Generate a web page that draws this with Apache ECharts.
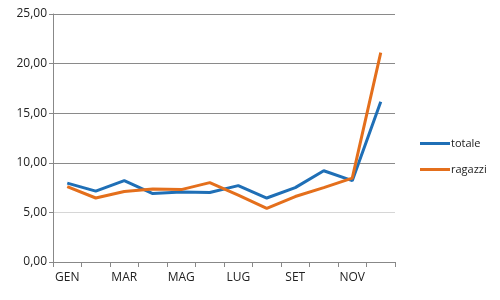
<!DOCTYPE html>
<html><head><meta charset="utf-8">
<script src="https://cdn.jsdelivr.net/npm/echarts@6/dist/echarts.min.js"></script>
<style>html,body{margin:0;padding:0;background:#fff}#c{width:500px;height:300px}</style>
</head><body><div id="c"></div>
<script>
var categories = ['GEN','FEB','MAR','APR','MAG','GIU','LUG','AGO','SET','OTT','NOV','DIC'];
var totale = [7.95, 7.15, 8.2, 6.9, 7.05, 7.0, 7.7, 6.45, 7.5, 9.2, 8.2, 16.15];
var ragazzi = [7.6, 6.45, 7.1, 7.35, 7.3, 8.0, 6.75, 5.4, 6.6, 7.5, 8.45, 21.1];
var yTicks = {min: 0, max: 25, interval: 5};

var font = 'Open Sans';
var chart = echarts.init(document.getElementById('c'), null, {renderer: 'canvas'});
chart.setOption({
  animation: false,
  backgroundColor: '#fff',
  grid: {left: 53, right: 105, top: 14, bottom: 38, containLabel: false},
  legend: {
    orient: 'vertical', left: 415, top: 133, itemWidth: 30, itemHeight: 3, itemGap: 15,
    icon: 'rect',
    textStyle: {fontFamily: font, fontSize: 11, color: '#222', padding: [0,0,0,-4]},
    data: ['totale', 'ragazzi']
  },
  xAxis: {
    type: 'category', data: categories, boundaryGap: true,
    axisLine: {lineStyle: {color: '#888', width: 1}},
    axisTick: {show: true, length: 5, lineStyle: {color: '#888'}, interval: 0},
    axisLabel: {interval: 1, fontFamily: font, fontSize: 12, color: '#222', margin: 10}
  },
  yAxis: {
    type: 'value', min: yTicks.min, max: yTicks.max, interval: yTicks.interval,
    axisLine: {show: true, lineStyle: {color: '#888'}},
    axisTick: {show: true, length: 4, lineStyle: {color: '#888'}},
    splitLine: {lineStyle: {color: ['#888', '#d6d6d6', '#8a8a8a', '#8a8a8a', '#8a8a8a', '#8a8a8a'], width: 1}},
    axisLabel: {fontFamily: font, fontSize: 12, color: '#222', margin: 6,
      formatter: function(v){ return v.toFixed(2).replace('.', ','); }}
  },
  series: [
    {name: 'totale', type: 'line', data: totale, symbol: 'none', lineStyle: {width: 3, color: '#1f6fb6'}, itemStyle: {color: '#1f6fb6'}},
    {name: 'ragazzi', type: 'line', data: ragazzi, symbol: 'none', lineStyle: {width: 3, color: '#e46f1c'}, itemStyle: {color: '#e46f1c'}}
  ]
});
</script></body></html>
